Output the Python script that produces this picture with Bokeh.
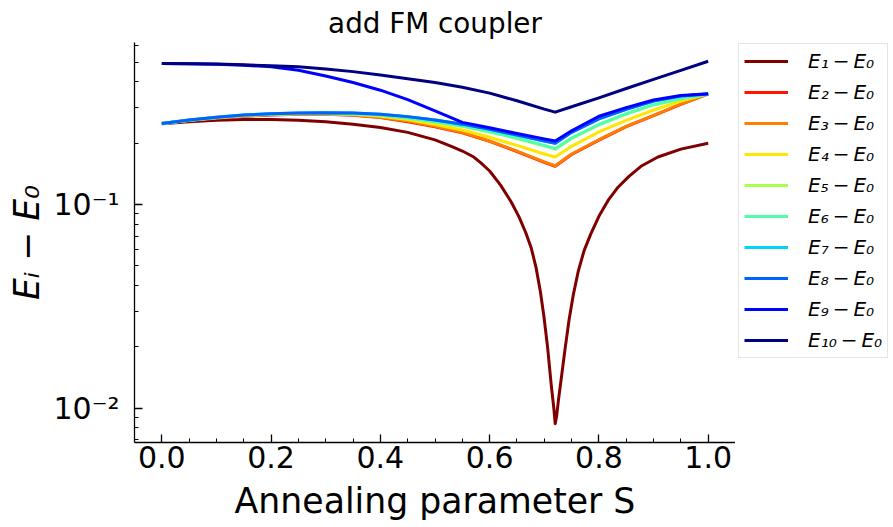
from bokeh.plotting import figure
from bokeh.layouts import row
from bokeh.models import Legend, LegendItem, FixedTicker, Range1d, PrintfTickFormatter
from bokeh.embed import file_html
from bokeh.resources import INLINE

# ---- data ----
S = [0.0, 0.05, 0.1, 0.15, 0.2, 0.25, 0.3, 0.35, 0.4, 0.45, 0.5, 0.55,
     0.6, 0.65, 0.7, 0.72, 0.75, 0.8, 0.85, 0.9, 0.95, 1.0]

S_gap1 = [0.0, 0.05, 0.1, 0.15, 0.2, 0.25, 0.3, 0.35, 0.4, 0.45, 0.5, 0.53,
          0.55, 0.571, 0.584, 0.6, 0.62, 0.639, 0.654, 0.666, 0.676, 0.685,
          0.693, 0.6996, 0.706, 0.7125, 0.7175, 0.72, 0.7225, 0.726, 0.7308,
          0.738, 0.7454, 0.753, 0.762, 0.7729, 0.785, 0.8, 0.8168, 0.835,
          0.855, 0.877, 0.908, 0.95, 1.0]
E1 = [0.249, 0.255, 0.259, 0.261, 0.261, 0.259, 0.255, 0.248, 0.239, 0.226,
      0.2075, 0.193, 0.183, 0.171, 0.160, 0.146, 0.1245, 0.1035, 0.0867,
      0.0729, 0.0614, 0.049, 0.0372, 0.0279, 0.020, 0.0132, 0.0100, 0.0084,
      0.0091, 0.0110, 0.0138, 0.0195, 0.0272, 0.0359, 0.0468, 0.0594, 0.0716,
      0.0875, 0.1047, 0.1216, 0.1374, 0.154, 0.171, 0.187, 0.200]

E2 = [0.250, 0.258, 0.265, 0.271, 0.275, 0.277, 0.277, 0.274, 0.267, 0.255,
      0.241, 0.225, 0.204, 0.182, 0.161, 0.154, 0.176, 0.207, 0.241, 0.273,
      0.310, 0.349]
E3 = [0.250, 0.259, 0.266, 0.272, 0.276, 0.278, 0.278, 0.275, 0.268, 0.257,
      0.242, 0.226, 0.205, 0.183, 0.162, 0.155, 0.177, 0.208, 0.242, 0.274,
      0.311, 0.349]
E4 = [0.250, 0.259, 0.267, 0.273, 0.277, 0.279, 0.279, 0.277, 0.271, 0.261,
      0.247, 0.232, 0.214, 0.195, 0.177, 0.171, 0.193, 0.227, 0.259, 0.291,
      0.322, 0.349]
E5 = [0.250, 0.259, 0.267, 0.274, 0.278, 0.280, 0.280, 0.278, 0.274, 0.265,
      0.254, 0.242, 0.227, 0.211, 0.194, 0.187, 0.211, 0.246, 0.278, 0.309,
      0.330, 0.349]
E6 = [0.250, 0.259, 0.267, 0.274, 0.278, 0.280, 0.280, 0.279, 0.275, 0.266,
      0.255, 0.243, 0.228, 0.212, 0.195, 0.188, 0.212, 0.247, 0.279, 0.309,
      0.330, 0.349]
E7 = [0.250, 0.260, 0.268, 0.275, 0.279, 0.281, 0.282, 0.281, 0.277, 0.270,
      0.260, 0.248, 0.234, 0.219, 0.205, 0.200, 0.226, 0.263, 0.293, 0.322,
      0.341, 0.349]
E8 = [0.250, 0.260, 0.268, 0.275, 0.279, 0.281, 0.282, 0.281, 0.277, 0.270,
      0.260, 0.248, 0.234, 0.219, 0.205, 0.200, 0.226, 0.263, 0.293, 0.322,
      0.341, 0.349]
E9 = [0.492, 0.491, 0.488, 0.483, 0.474, 0.456, 0.427, 0.397, 0.364, 0.327,
      0.288, 0.253, 0.238, 0.223, 0.210, 0.205, 0.230, 0.271, 0.299, 0.326,
      0.343, 0.350]
E10 = [0.492, 0.491, 0.489, 0.485, 0.480, 0.474, 0.463, 0.449, 0.432, 0.414,
       0.397, 0.376, 0.352, 0.323, 0.294, 0.284, 0.302, 0.334, 0.371, 0.411,
       0.455, 0.505]

series = [E1, E2, E3, E4, E5, E6, E7, E8, E9, E10]
labels = ["E\u2081\u2009\u2212\u2009E\u2080", "E\u2082\u2009\u2212\u2009E\u2080",
          "E\u2083\u2009\u2212\u2009E\u2080", "E\u2084\u2009\u2212\u2009E\u2080",
          "E\u2085\u2009\u2212\u2009E\u2080", "E\u2086\u2009\u2212\u2009E\u2080",
          "E\u2087\u2009\u2212\u2009E\u2080", "E\u2088\u2009\u2212\u2009E\u2080",
          "E\u2089\u2009\u2212\u2009E\u2080", "E\u2081\u2080\u2009\u2212\u2009E\u2080"]
colors = ["#800000", "#ff1400", "#ff7d00", "#ffe500", "#a9ff4d",
          "#4dffa9", "#00d4ff", "#0063ff", "#0000ff", "#000080"]

x_ticks = [0.0, 0.2, 0.4, 0.6, 0.8, 1.0]
x_minor = [0.05, 0.1, 0.15, 0.25, 0.3, 0.35, 0.45, 0.5, 0.55, 0.65, 0.7, 0.75,
           0.85, 0.9, 0.95]
y_ticks = [0.01, 0.1]
y_tick_labels = ["10\u207b\u00b2", "10\u207b\u00b9"]
y_minor = [0.007, 0.008, 0.009, 0.02, 0.03, 0.04, 0.05, 0.06, 0.07, 0.08, 0.09,
           0.2, 0.3, 0.4, 0.5, 0.6]

FONT = "DejaVu Sans"

# ---- main plot ----
p = figure(width=735, height=527, y_axis_type="log",
           x_range=Range1d(-0.05, 1.05), y_range=Range1d(0.00679, 0.624),
           output_backend="svg", toolbar_location=None,
           min_border_left=134, min_border_right=0,
           min_border_top=42, min_border_bottom=85,
           title="add FM coupler")

p.title.text_font = FONT
p.title.text_font_size = "27.8px"
p.title.text_font_style = "normal"
p.title.text_color = "black"
p.title.align = "center"
p.title.standoff = 5

p.outline_line_color = None
p.xgrid.visible = False
p.ygrid.visible = False
p.background_fill_color = "white"
p.border_fill_color = "white"

for i, (ys, c) in enumerate(zip(series, colors)):
    xs = S_gap1 if i == 0 else S
    p.line(xs, ys, line_color=c, line_width=3, line_join="round")

for ax in (p.xaxis[0], p.yaxis[0]):
    ax.axis_line_color = "black"
    ax.axis_line_width = 1.3
    ax.major_tick_line_color = "black"
    ax.minor_tick_line_color = "black"
    ax.major_tick_line_width = 1.3
    ax.minor_tick_line_width = 1.0
    ax.major_tick_in = 8
    ax.major_tick_out = 0
    ax.minor_tick_in = 4
    ax.minor_tick_out = 0
    ax.major_label_text_font = FONT
    ax.major_label_text_font_size = "30px"
    ax.major_label_text_color = "black"
    ax.axis_label_text_font = FONT
    ax.axis_label_text_font_size = "34.7px"
    ax.axis_label_text_color = "black"

p.xaxis.ticker = FixedTicker(ticks=x_ticks, minor_ticks=x_minor)
p.xaxis.formatter = PrintfTickFormatter(format="%.1f")
p.xaxis.axis_label = "Annealing parameter S"
p.xaxis.axis_label_text_font_style = "normal"
p.xaxis.major_label_standoff = 3
p.xaxis.axis_label_standoff = 10

p.yaxis.ticker = FixedTicker(ticks=y_ticks, minor_ticks=y_minor)
p.yaxis.major_label_overrides = {t: l for t, l in zip(y_ticks, y_tick_labels)}
p.yaxis.axis_label = "E\u1d62 \u2212 E\u2080"
p.yaxis.axis_label_text_font_style = "italic"
p.yaxis.major_label_standoff = 15
p.yaxis.axis_label_standoff = 3

# ---- legend panel (separate figure holding only the legend) ----
q = figure(width=158, height=527, x_range=Range1d(0, 1), y_range=Range1d(0, 1),
           output_backend="svg", toolbar_location=None,
           x_axis_location=None, y_axis_location=None,
           min_border_left=2, min_border_right=0,
           min_border_top=0, min_border_bottom=0)
q.outline_line_color = None
q.grid.visible = False
q.background_fill_color = "white"
q.border_fill_color = "white"

# invisible stand-ins (outside the range) that only give the legend its swatches
proxies = [q.line(x=[-3, -2], y=[-3, -2], line_color=c, line_width=3) for c in colors]
items = [LegendItem(label=lab, renderers=[r]) for lab, r in zip(labels, proxies)]
legend = Legend(items=items, location="top_left")
legend.label_text_font = FONT
legend.label_text_font_size = "20px"
legend.label_text_font_style = "italic"
legend.label_text_color = "black"
legend.glyph_width = 44
legend.glyph_height = 24
legend.label_height = 24
legend.spacing = 7
legend.padding = 5
legend.margin = 1
legend.label_standoff = 20
legend.border_line_color = "#cccccc"
legend.border_line_width = 1.3
legend.background_fill_alpha = 0.8
q.add_layout(legend)

layout = row(p, q)
open("out.html", "w").write(file_html(layout, INLINE))
